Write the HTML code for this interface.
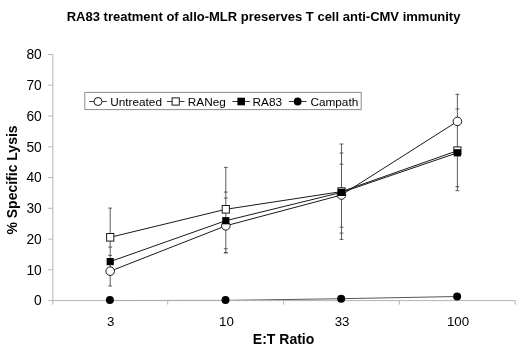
<!DOCTYPE html>
<html><head><meta charset="utf-8"><title>RA83 treatment of allo-MLR preserves T cell anti-CMV immunity</title>
<style>
html,body{margin:0;padding:0;background:#fff;}
body{width:520px;height:354px;overflow:hidden;}
svg{display:block;}
text{font-family:"Liberation Sans",Arial,sans-serif;fill:#000;}
.t{font-weight:bold;font-size:13px;}
.ax{font-weight:bold;font-size:14px;}
.tk{font-size:13.8px;}
.tx{font-size:13.3px;}
.lg{font-size:11.8px;}
</style></head><body>
<svg width="520" height="354" viewBox="0 0 520 354">
<rect width="520" height="354" fill="#fff"/>
<text class="t" x="263.6" y="21.2" text-anchor="middle">RA83 treatment of allo-MLR preserves T cell anti-CMV immunity</text>
<text class="tk" x="41.8" y="305.3" text-anchor="end">0</text>
<text class="tk" x="41.8" y="274.5" text-anchor="end">10</text>
<text class="tk" x="41.8" y="243.8" text-anchor="end">20</text>
<text class="tk" x="41.8" y="213.0" text-anchor="end">30</text>
<text class="tk" x="41.8" y="182.2" text-anchor="end">40</text>
<text class="tk" x="41.8" y="151.5" text-anchor="end">50</text>
<text class="tk" x="41.8" y="120.7" text-anchor="end">60</text>
<text class="tk" x="41.8" y="89.9" text-anchor="end">70</text>
<text class="tk" x="41.8" y="59.2" text-anchor="end">80</text>
<text class="tx" x="110.8" y="325.8" text-anchor="middle">3</text>
<text class="tx" x="226.4" y="325.8" text-anchor="middle">10</text>
<text class="tx" x="342.1" y="325.8" text-anchor="middle">33</text>
<text class="tx" x="458.0" y="325.8" text-anchor="middle">100</text>
<text class="ax" x="283.6" y="344.2" text-anchor="middle">E:T Ratio</text>
<text class="ax" transform="translate(16.6 180) rotate(-90)" text-anchor="middle">% Specific Lysis</text>
<g stroke="#4a4a4a" stroke-width="0.9" fill="none">
<path d="M110.2 208.1V286.0"/>
<path d="M108.3 208.1H112.1"/>
<path d="M108.3 247.1H112.1"/>
<path d="M108.3 255.4H112.1"/>
<path d="M108.3 286.0H112.1"/>
<path d="M225.8 167.4V252.9"/>
<path d="M223.9 167.4H227.7"/>
<path d="M223.9 192.1H227.7"/>
<path d="M223.9 198.0H227.7"/>
<path d="M223.9 248.7H227.7"/>
<path d="M223.9 252.4H227.7"/>
<path d="M223.9 253.0H227.7"/>
<path d="M341.5 144.0V239.4"/>
<path d="M339.6 144.0H343.4"/>
<path d="M339.6 153.0H343.4"/>
<path d="M339.6 164.2H343.4"/>
<path d="M339.6 227.2H343.4"/>
<path d="M339.6 233.1H343.4"/>
<path d="M339.6 239.4H343.4"/>
<path d="M457.4 94.3V190.7"/>
<path d="M455.5 94.3H459.3"/>
<path d="M455.5 109.0H459.3"/>
<path d="M455.5 186.7H459.3"/>
<path d="M455.5 190.7H459.3"/>
</g>
<g stroke="#1a1a1a" stroke-width="1" fill="none">
<polyline points="110.2,271.2 225.8,225.8 341.5,195.0 457.4,121.4"/>
</g>
<circle cx="110.2" cy="271.2" r="4.3" fill="#fff" stroke="#1a1a1a" stroke-width="1"/>
<circle cx="225.8" cy="225.8" r="4.3" fill="#fff" stroke="#1a1a1a" stroke-width="1"/>
<circle cx="341.5" cy="195.0" r="4.3" fill="#fff" stroke="#1a1a1a" stroke-width="1"/>
<circle cx="457.4" cy="121.4" r="4.3" fill="#fff" stroke="#1a1a1a" stroke-width="1"/>
<polyline points="110.2,237.3 225.8,209.3 341.5,191.6 457.4,150.7" stroke="#1a1a1a" stroke-width="1" fill="none"/>
<rect x="106.6" y="233.5" width="7.2" height="7.6" fill="#fff" stroke="#1a1a1a" stroke-width="1"/>
<rect x="222.2" y="205.5" width="7.2" height="7.6" fill="#fff" stroke="#1a1a1a" stroke-width="1"/>
<rect x="337.9" y="187.8" width="7.2" height="7.6" fill="#fff" stroke="#1a1a1a" stroke-width="1"/>
<rect x="453.8" y="146.9" width="7.2" height="7.6" fill="#fff" stroke="#1a1a1a" stroke-width="1"/>
<polyline points="110.2,261.6 225.8,220.7 341.5,192.4 457.4,152.8" stroke="#1a1a1a" stroke-width="1" fill="none"/>
<rect x="106.6" y="258.0" width="7.2" height="7.2" fill="#000"/>
<rect x="222.2" y="217.1" width="7.2" height="7.2" fill="#000"/>
<rect x="337.9" y="188.8" width="7.2" height="7.2" fill="#000"/>
<rect x="453.8" y="149.2" width="7.2" height="7.2" fill="#000"/>
<polyline points="110.2,300.5 225.8,300.4 341.5,298.7 457.4,296.5" stroke="#444" stroke-width="0.9" fill="none"/>
<g stroke="#b4b4b4" stroke-width="1" fill="none">
<path d="M52.9 54.4V304.6M48.2 300.6H515.2"/>
<path d="M48.2 269.8H52.9"/>
<path d="M48.2 239.1H52.9"/>
<path d="M48.2 208.3H52.9"/>
<path d="M48.2 177.5H52.9"/>
<path d="M48.2 146.8H52.9"/>
<path d="M48.2 116.0H52.9"/>
<path d="M48.2 85.2H52.9"/>
<path d="M48.2 54.5H52.9"/>
<path d="M167.7 300.6V304.6"/>
<path d="M283.6 300.6V304.6"/>
<path d="M399.4 300.6V304.6"/>
<path d="M515.2 300.6V304.6"/>
</g>
<circle cx="109.9" cy="300.0" r="4" fill="#000"/>
<circle cx="225.5" cy="300.0" r="4" fill="#000"/>
<circle cx="341.2" cy="298.7" r="4" fill="#000"/>
<circle cx="457.1" cy="296.5" r="4" fill="#000"/>
<rect x="84.8" y="92.4" width="276.4" height="17.2" fill="#fff" stroke="#8c8c8c" stroke-width="1"/>
<path d="M89.2 101.5H106.8" stroke="#222" stroke-width="0.9"/>
<circle cx="98.0" cy="101.5" r="4" fill="#fff" stroke="#1a1a1a" stroke-width="1"/>
<text class="lg" x="110.2" y="105.6">Untreated</text>
<path d="M166.9 101.5H184.5" stroke="#222" stroke-width="0.9"/>
<rect x="172.1" y="97.9" width="7.2" height="7.2" fill="#fff" stroke="#1a1a1a" stroke-width="1"/>
<text class="lg" x="187.8" y="105.6">RANeg</text>
<path d="M232.4 101.5H250.0" stroke="#222" stroke-width="0.9"/>
<rect x="237.4" y="97.7" width="7.6" height="7.6" fill="#000"/>
<text class="lg" x="252.6" y="105.6">RA83</text>
<path d="M288.9 101.5H306.5" stroke="#222" stroke-width="0.9"/>
<circle cx="297.7" cy="101.5" r="3.9" fill="#000"/>
<text class="lg" x="310.4" y="105.6">Campath</text>
</svg>
</body></html>
